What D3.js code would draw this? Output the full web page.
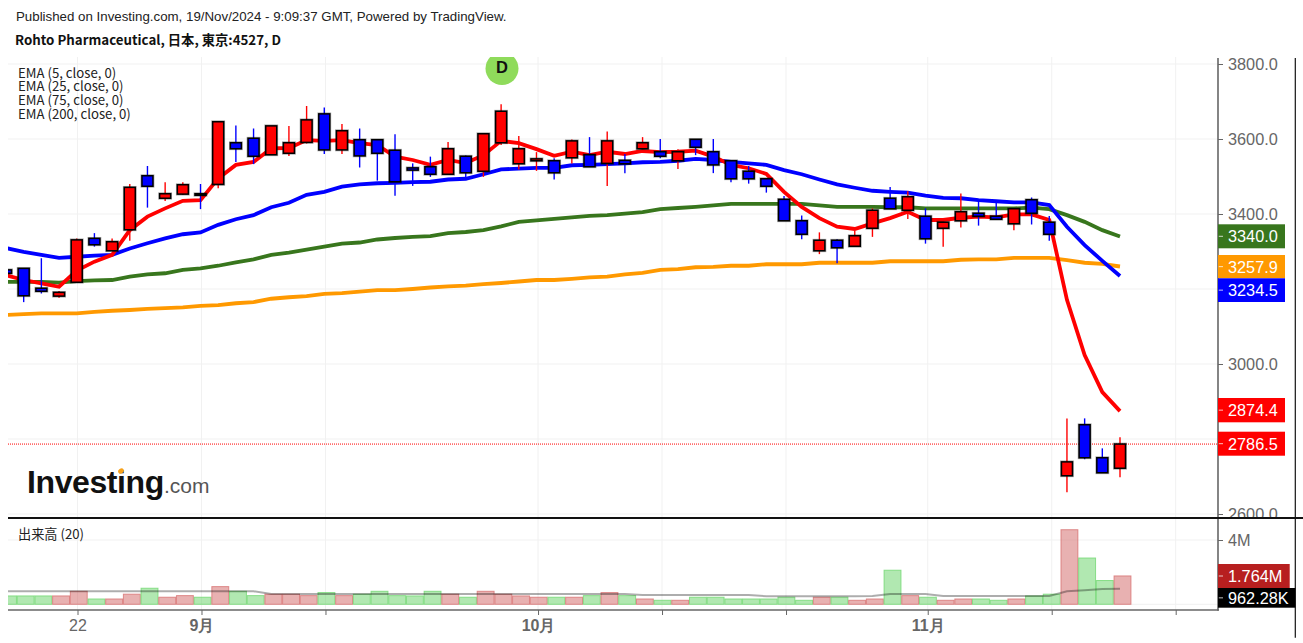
<!DOCTYPE html>
<html>
<head>
<meta charset="utf-8">
<style>
  html, body { margin: 0; padding: 0; background: #fff; overflow: hidden; }
  svg { display: block; }
  .lbl { font-family: "Liberation Sans", Arial, sans-serif; }
  .noto { font-family: "Noto Sans CJK JP", "Noto Sans", sans-serif; }
  .axis text { font-family: "Liberation Sans", Arial, sans-serif; fill: #666; }
</style>
</head>
<body>
<div id="chart"></div>
<script src="https://cdn.jsdelivr.net/npm/d3@7"></script>
<script>
// daily candles, index 0 is partly cut off by the left edge
var opens = [3251,3255,3202,3181,3218,3335,3302,3358,3502,3442,
             3453,3454,3479,3590,3602,3558,3562,3591,3667,3571,
             3598,3598,3570,3523,3526,3506,3554,3514,3590,3534,
             3542,3542,3550,3558,3535,3543,3574,3566,3542,3599,
             3566,3542,3514,3494,3439,3382,3302,3330,3314,3362,
             3442,3410,3394,3362,3382,3402,3394,3374,3438,3378,
             2702,2838,2750,2722];
var highs = [3256,3255,3282,3195,3335,3349,3335,3480,3528,3485,
             3485,3480,3646,3636,3628,3635,3635,3688,3684,3640,
             3628,3598,3613,3535,3553,3592,3556,3614,3693,3608,
             3565,3549,3599,3605,3620,3560,3605,3600,3573,3599,
             3600,3542,3528,3494,3448,3396,3351,3333,3355,3415,
             3472,3461,3415,3378,3455,3435,3431,3414,3444,3395,
             2855,2855,2775,2805];
var lows = [3237,3165,3188,3177,3218,3313,3302,3329,3417,3435,
            3451,3413,3469,3539,3533,3558,3555,3588,3560,3560,
            3524,3489,3449,3475,3499,3506,3499,3499,3584,3519,
            3515,3492,3535,3526,3475,3509,3571,3549,3520,3557,
            3509,3485,3481,3457,3382,3333,3293,3269,3314,3339,
            3414,3387,3321,3313,3364,3369,3384,3357,3372,3329,
            2658,2746,2710,2698];
var closes = [3242,3182,3194,3191,3331,3318,3326,3471,3474,3454,
              3478,3450,3646,3574,3554,3635,3590,3651,3571,3622,
              3555,3562,3486,3517,3506,3574,3510,3614,3674,3574,
              3547,3510,3595,3526,3595,3534,3590,3554,3566,3578,
              3531,3494,3494,3474,3382,3346,3330,3310,3342,3410,
              3414,3446,3334,3378,3406,3394,3386,3414,3402,3346,
              2739,2750,2710,2786.5];

var ema5 = [3237,3224,3215,3206,3249,3273,3291,3357,3393,3415,
            3435,3437,3495,3531,3539,3575,3576,3597,3595,3597,
            3589,3584,3553,3544,3531,3544,3536,3557,3595,3589,
            3573,3555,3566,3557,3566,3560,3568,3565,3566,3569,
            3553,3531,3522,3507,3459,3419,3389,3366,3360,3375,
            3389,3406,3384,3384,3390,3393,3391,3399,3399,3384,
            3171,3024,2925,2874.4];
var ema25 = [3309,3299,3291,3283,3286,3289,3291,3308,3322,3335,
             3346,3351,3371,3386,3397,3418,3430,3451,3459,3473,
             3479,3482,3483,3485,3486,3492,3494,3506,3519,3521,
             3523,3523,3530,3531,3533,3535,3538,3539,3542,3547,
             3544,3539,3535,3531,3517,3506,3492,3479,3470,3462,
             3459,3457,3449,3443,3442,3437,3434,3431,3431,3424,
             3366,3317,3275,3234.5];
var ema75 = [3219,3219,3219,3217,3221,3223,3224,3233,3239,3242,
             3251,3255,3262,3271,3279,3291,3297,3305,3313,3321,
             3324,3332,3336,3339,3341,3349,3352,3357,3367,3379,
             3383,3387,3391,3395,3397,3401,3405,3413,3416,3419,
             3423,3427,3427,3427,3427,3427,3423,3419,3419,3419,
             3418,3418,3415,3415,3415,3415,3415,3415,3417,3413,
             3397,3379,3357,3340];
var ema200 = [3131,3133,3135,3135,3135,3139,3142,3144,3147,3149,
              3151,3155,3157,3162,3165,3174,3178,3181,3187,3189,
              3193,3197,3197,3200,3204,3207,3209,3213,3216,3220,
              3224,3224,3227,3231,3233,3239,3243,3251,3253,3258,
              3259,3262,3262,3266,3266,3266,3270,3270,3270,3270,
              3274,3274,3274,3274,3278,3279,3279,3283,3283,3283,
              3277,3270,3267,3260];

// volume in millions
var volumes = [0.52,0.52,0.52,0.52,0.81,0.33,0.33,0.63,1.0,0.44,
               0.54,0.44,1.10,0.81,0.54,0.63,0.63,0.54,0.73,0.54,
               0.63,0.81,0.54,0.52,0.81,0.63,0.44,0.81,0.63,0.52,
               0.44,0.44,0.44,0.54,0.73,0.54,0.33,0.25,0.25,0.44,
               0.44,0.33,0.33,0.33,0.44,0.25,0.44,0.44,0.25,0.33,
               2.12,0.54,0.44,0.25,0.33,0.33,0.25,0.33,0.52,0.63,
               4.64,2.88,1.48,1.764];
var volumeSma = [0.81,0.81,0.81,0.81,0.81,0.81,0.81,0.81,0.81,0.81,
                 0.81,0.81,0.81,0.81,0.81,0.64,0.64,0.64,0.64,0.64,
                 0.64,0.64,0.64,0.64,0.64,0.64,0.64,0.64,0.64,0.64,
                 0.64,0.64,0.64,0.64,0.64,0.64,0.58,0.58,0.58,0.58,
                 0.58,0.58,0.58,0.50,0.50,0.50,0.50,0.50,0.50,0.52,
                 0.64,0.64,0.64,0.52,0.52,0.52,0.52,0.52,0.52,0.52,
                 0.81,0.875,0.95,0.962];

var timeTickIndex = [4,11,18,30,37,44,52,59,66];
var timeTickLabels = ["22","9月","","10月","","","11月","",""];
var boldTicks = ["9月","10月","11月"];
var priceTicks = [3800,3600,3400,3200,3000,2800,2600];
var hiddenPriceLabels = [3200,2800];
var volumeTicks = [4,0];
var emaLegend = ["EMA (5, close, 0)","EMA (25, close, 0)","EMA (75, close, 0)","EMA (200, close, 0)"];

var w = 1303, h = 643;
var left = 8, axisX = 1218, top_ = 57, paneBottom = 518, volumeAxisY = 610;

var svg = d3.select("#chart").append("svg").attr("width", w).attr("height", h);

var x = d3.scaleLinear().domain([0, 63]).range([6, 1120]);
var xVolume = d3.scaleLinear().domain([0, 63]).range([8, 1122.5]);
var xTick = d3.scaleLinear().domain([4, 66]).range([77.5, 1175.7]);
var y = d3.scaleLinear().domain([3800, 2600]).range([64, 514]);
var yVolume = d3.scaleLinear().domain([0, 4]).range([604.3, 540]);

var defs = svg.append("defs");
defs.append("clipPath").attr("id", "priceClip").append("rect")
    .attr("x", left).attr("y", top_).attr("width", axisX - left).attr("height", paneBottom - top_);
defs.append("clipPath").attr("id", "volumeClip").append("rect")
    .attr("x", left).attr("y", paneBottom).attr("width", axisX - left).attr("height", volumeAxisY - paneBottom);
defs.append("clipPath").attr("id", "priceAxisClip").append("rect")
    .attr("x", axisX).attr("y", top_).attr("width", w - axisX).attr("height", paneBottom - top_);

// grid
var grid = svg.append("g").attr("stroke", "#f1f1f1").attr("stroke-width", 1);
grid.selectAll("line.v").data(timeTickIndex).enter().append("line")
    .attr("class", "v")
    .attr("x1", function(d) { return xTick(d); })
    .attr("x2", function(d) { return xTick(d); })
    .attr("y1", top_).attr("y2", volumeAxisY);
grid.selectAll("line.h").data(priceTicks).enter().append("line")
    .attr("class", "h")
    .attr("x1", left).attr("x2", axisX)
    .attr("y1", function(d) { return y(d); })
    .attr("y2", function(d) { return y(d); });
grid.selectAll("line.hv").data(volumeTicks).enter().append("line")
    .attr("class", "hv")
    .attr("x1", left).attr("x2", axisX)
    .attr("y1", function(d) { return yVolume(d); })
    .attr("y2", function(d) { return yVolume(d); });

var pricePane = svg.append("g").attr("clip-path", "url(#priceClip)");

// last price line
pricePane.append("line")
    .attr("x1", left).attr("x2", axisX)
    .attr("y1", y(2786.5)).attr("y2", y(2786.5))
    .attr("stroke", "#f00").attr("stroke-width", 1).attr("stroke-dasharray", "1,1");

// EMAs, slowest at the bottom
var emaLine = d3.line()
    .x(function(d, i) { return x(i); })
    .y(function(d) { return y(d); });
[[ema200, "#ff9900"], [ema75, "#38761d"], [ema25, "#0000ff"], [ema5, "#ff0000"]].forEach(function(e) {
  pricePane.append("path")
      .attr("d", emaLine(e[0]))
      .attr("fill", "none")
      .attr("stroke", e[1])
      .attr("stroke-width", 3.8);
});

// candles
function candleColor(i) { return closes[i] >= opens[i] ? "#ff0000" : "#0000ff"; }
var idx = d3.range(opens.length);

pricePane.selectAll("line.wick").data(idx).enter().append("line")
    .attr("class", "wick")
    .attr("x1", function(i) { return x(i); })
    .attr("x2", function(i) { return x(i); })
    .attr("y1", function(i) { return y(highs[i]); })
    .attr("y2", function(i) { return y(lows[i]); })
    .attr("stroke", candleColor)
    .attr("stroke-width", 1.4);

var bodyW = 11;
function bodyTop(i) { return y(Math.max(opens[i], closes[i])); }
function bodyH(i) { return Math.abs(y(opens[i]) - y(closes[i])); }

// soft grey edge round each body
pricePane.selectAll("rect.halo").data(idx).enter().append("rect")
    .attr("class", "halo")
    .attr("x", function(i) { return x(i) - bodyW / 2; })
    .attr("y", bodyTop)
    .attr("width", bodyW)
    .attr("height", bodyH)
    .attr("fill", "none")
    .attr("stroke", "#000")
    .attr("stroke-opacity", 0.35)
    .attr("stroke-width", 2.8);
pricePane.selectAll("rect.body").data(idx).enter().append("rect")
    .attr("class", "body")
    .attr("x", function(i) { return x(i) - bodyW / 2; })
    .attr("y", bodyTop)
    .attr("width", bodyW)
    .attr("height", bodyH)
    .attr("fill", candleColor)
    .attr("stroke", "#000")
    .attr("stroke-width", 1.5);

// dividend marker
pricePane.append("circle")
    .attr("cx", 502).attr("cy", 68.5).attr("r", 16.5)
    .attr("fill", "#8fdb5b");
pricePane.append("text")
    .attr("class", "lbl")
    .attr("x", 502).attr("y", 72.6)
    .attr("text-anchor", "middle")
    .attr("font-size", 16.5).attr("font-weight", "bold")
    .attr("fill", "#111")
    .text("D");

// volume
var volumePane = svg.append("g").attr("clip-path", "url(#volumeClip)");
var stepW = xVolume(1) - xVolume(0);
volumePane.selectAll("rect.vol").data(volumes).enter().append("rect")
    .attr("class", "vol")
    .attr("x", function(d, i) { return xVolume(i) - stepW / 2 + 0.4; })
    .attr("y", function(d) { return yVolume(d); })
    .attr("width", stepW - 0.8)
    .attr("height", function(d) { return yVolume(0) - yVolume(d); })
    .attr("fill", function(d, i) { return closes[i] >= opens[i] ? "rgba(210,100,100,0.5)" : "rgba(100,210,100,0.5)"; })
    .attr("stroke", function(d, i) { return closes[i] >= opens[i] ? "rgba(215,110,110,0.75)" : "rgba(110,215,110,0.75)"; })
    .attr("stroke-width", 1);
volumePane.append("path")
    .attr("d", d3.line().x(function(d, i) { return x(i); }).y(function(d) { return yVolume(d); })(volumeSma))
    .attr("fill", "none")
    .attr("stroke", "rgba(0,0,0,0.32)")
    .attr("stroke-width", 2);

// axes
var priceAxis = d3.axisRight(y)
    .tickValues(priceTicks)
    .tickSize(5)
    .tickPadding(5)
    .tickFormat(function(d) { return hiddenPriceLabels.indexOf(d) >= 0 ? "" : d3.format(".1f")(d); });
// clip sits on an untranslated wrapper, so it uses page coordinates
var priceAxisG = svg.append("g").attr("clip-path", "url(#priceAxisClip)").append("g")
    .attr("class", "axis")
    .attr("transform", "translate(" + axisX + ",0)")
    .call(priceAxis);
priceAxisG.select(".domain").remove();
priceAxisG.selectAll("line").attr("stroke", "#666");
priceAxisG.selectAll("text").attr("font-size", 16.3);

var volumeAxis = d3.axisRight(yVolume)
    .tickValues([4])
    .tickSize(5)
    .tickPadding(5)
    .tickFormat(function(d) { return d + "M"; });
var volumeAxisG = svg.append("g").attr("class", "axis")
    .attr("transform", "translate(" + axisX + ",0)")
    .call(volumeAxis);
volumeAxisG.select(".domain").remove();
volumeAxisG.selectAll("line").attr("stroke", "#666");
volumeAxisG.selectAll("text").attr("font-size", 16.3);

var timeAxis = d3.axisBottom(xTick)
    .tickValues(timeTickIndex)
    .tickSize(5)
    .tickPadding(5)
    .tickFormat(function(d) { return timeTickLabels[timeTickIndex.indexOf(d)]; });
var timeAxisG = svg.append("g").attr("class", "axis")
    .attr("transform", "translate(0," + volumeAxisY + ")")
    .call(timeAxis);
timeAxisG.select(".domain").remove();
timeAxisG.selectAll("line").attr("stroke", "#666");
timeAxisG.selectAll("text")
    .attr("font-size", 16)
    .attr("font-family", function(d) {
      return '"Liberation Sans", "Noto Sans CJK JP", sans-serif';
    })
    .attr("font-weight", function(d) {
      return boldTicks.indexOf(timeTickLabels[timeTickIndex.indexOf(d)]) >= 0 ? "bold" : "normal";
    })
    .attr("fill", function(d) {
      return boldTicks.indexOf(timeTickLabels[timeTickIndex.indexOf(d)]) >= 0 ? "#555" : "#666";
    });

// frame lines
svg.append("line").attr("x1", axisX).attr("x2", axisX).attr("y1", 58).attr("y2", volumeAxisY + 0.7)
    .attr("stroke", "#666").attr("stroke-width", 1.6);
svg.append("line").attr("x1", left).attr("x2", axisX + 0.8).attr("y1", volumeAxisY).attr("y2", volumeAxisY)
    .attr("stroke", "#666").attr("stroke-width", 1.6);
svg.append("line").attr("x1", 1295.3).attr("x2", 1295.3).attr("y1", 58).attr("y2", 637.7)
    .attr("stroke", "#111").attr("stroke-width", 1.2);
svg.append("line").attr("x1", left).attr("x2", w).attr("y1", paneBottom).attr("y2", paneBottom)
    .attr("stroke", "#111").attr("stroke-width", 1.8);

// value labels on the scale
var priceTags = [
  { text: "3340.0", color: "#38761d", y0: 224.3, y1: 248.3, x1: 1285 },
  { text: "3257.9", color: "#ff9900", y0: 255, y1: 278.3, x1: 1285 },
  { text: "3234.5", color: "#0000ff", y0: 278.3, y1: 302, x1: 1285 },
  { text: "2874.4", color: "#ff0000", y0: 398, y1: 422.3, x1: 1285 },
  { text: "2786.5", color: "#ff0000", y0: 431.7, y1: 455.7, x1: 1285 },
  { text: "1.764M", color: "#b71f1f", y0: 564, y1: 588, x1: 1289.7 },
  { text: "962.28K", color: "#000000", y0: 588, y1: 607.7, x1: 1295.3 }
];
var tags = svg.append("g");
priceTags.forEach(function(t) {
  tags.append("rect")
      .attr("x", axisX).attr("y", t.y0)
      .attr("width", t.x1 - axisX).attr("height", t.y1 - t.y0)
      .attr("fill", t.color);
  tags.append("line")
      .attr("x1", axisX + 0.8).attr("x2", axisX + 5)
      .attr("y1", (t.y0 + t.y1) / 2).attr("y2", (t.y0 + t.y1) / 2)
      .attr("stroke", "#fff").attr("stroke-opacity", 0.75);
  tags.append("text")
      .attr("class", "lbl")
      .attr("x", axisX + 10).attr("y", (t.y0 + t.y1) / 2 + 6)
      .attr("font-size", 16.3)
      .attr("fill", "#fff")
      .text(t.text);
});

// header and legends
svg.append("text").attr("class", "lbl")
    .attr("x", 16).attr("y", 21)
    .attr("font-size", 13.3).attr("fill", "#222")
    .text("Published on Investing.com, 19/Nov/2024 - 9:09:37 GMT, Powered by TradingView.");
svg.append("text").attr("class", "noto")
    .attr("x", 15).attr("y", 45)
    .attr("font-size", 13.3).attr("font-weight", "bold").attr("fill", "#111")
    .text("Rohto Pharmaceutical, 日本, 東京:4527, D");
svg.selectAll("text.legend").data(emaLegend).enter().append("text")
    .attr("class", "legend noto")
    .attr("x", 18)
    .attr("y", function(d, i) { return 77.5 + i * 13.7; })
    .attr("font-size", 13.2).attr("fill", "#222")
    .text(function(d) { return d; });
svg.append("text").attr("class", "noto")
    .attr("x", 18).attr("y", 539)
    .attr("font-size", 13.2).attr("fill", "#222")
    .text("出来高 (20)");

// logo
var logo = svg.append("text").attr("class", "lbl").attr("x", 27).attr("y", 493);
logo.append("tspan")
    .attr("font-size", 32).attr("font-weight", "bold").attr("letter-spacing", -0.4).attr("fill", "#111")
    .text("Investing");
logo.append("tspan")
    .attr("font-size", 21).attr("fill", "#555")
    .text(".com");
svg.append("ellipse")
    .attr("cx", 121).attr("cy", 471).attr("rx", 3).attr("ry", 2.4)
    .attr("transform", "rotate(-35 121 471)")
    .attr("fill", "#f7a11a");
</script>
</body>
</html>
